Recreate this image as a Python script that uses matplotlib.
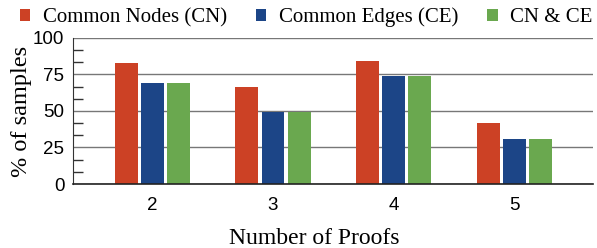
import numpy as np
import matplotlib.pyplot as plt
from matplotlib.ticker import MultipleLocator

proofs = ['2', '3', '4', '5']
common_nodes = [83, 66.5, 84.5, 41.5]
common_edges = [69, 49.5, 74, 30.5]
cn_and_ce = [69, 49.5, 74, 30.5]

series = [
    ('Common Nodes (CN)', common_nodes, '#cc4125'),
    ('Common Edges (CE)', common_edges, '#1c4587'),
    ('CN & CE', cn_and_ce, '#6aa84f'),
]

serif = ['Liberation Serif', 'DejaVu Serif']
sans = ['Liberation Sans', 'DejaVu Sans']


def plot_data():
    fig = plt.figure(figsize=(5.97, 2.48), dpi=100)
    ax = fig.add_axes([0.1218, 0.258, 0.871, 0.589])

    x = np.arange(len(proofs))
    pitch = 0.216
    width = 0.19
    handles = []
    for i, (label, vals, color) in enumerate(series):
        b = ax.bar(x + (i - 1) * pitch, vals, width, color=color, label=label,
                   zorder=3)
        handles.append(b)

    ax.set_xlim(-0.66, 3.65)
    ax.set_ylim(0, 100)
    ax.set_xticks(x)
    ax.set_xticklabels(proofs, fontfamily=sans, fontsize=13.5)
    ax.set_yticks([0, 25, 50, 75, 100])
    ax.set_yticklabels(['0', '25', '50', '75', '100'], fontfamily=sans, fontsize=13.5)
    ax.yaxis.set_minor_locator(MultipleLocator(25 / 3))
    ax.tick_params(axis='y', which='major', length=0, pad=6)
    ax.tick_params(axis='y', which='minor', direction='in', length=7,
                   width=1, color='#333333')
    ax.tick_params(axis='x', length=0, pad=9)

    ax.grid(axis='y', which='major', color='#777777', linewidth=1, zorder=0)
    ax.set_axisbelow(True)
    for s in ['top', 'right']:
        ax.spines[s].set_visible(False)
    ax.spines['left'].set_color('#333333')
    ax.spines['bottom'].set_color('#222222')
    ax.spines['bottom'].set_linewidth(1.2)
    ax.spines['bottom'].set_zorder(4)

    ax.set_xlabel('Number of Proofs', fontfamily=serif, fontsize=17)
    ax.xaxis.set_label_coords(0.464, -0.30)
    ax.set_ylabel('% of samples', fontfamily=serif, fontsize=17.5)
    ax.yaxis.set_label_coords(-0.078, 0.5)

    fig.legend(handles=handles, loc='center', bbox_to_anchor=(0.513, 0.93),
               ncol=3, frameon=False, prop={'family': serif, 'size': 15},
               handlelength=0.5, handleheight=0.5, handletextpad=0.6,
               columnspacing=1.4)
    return fig, ax


def main():
    fig, ax = plot_data()
    fig.savefig('out.png', dpi=100)


if __name__ == '__main__':
    main()
